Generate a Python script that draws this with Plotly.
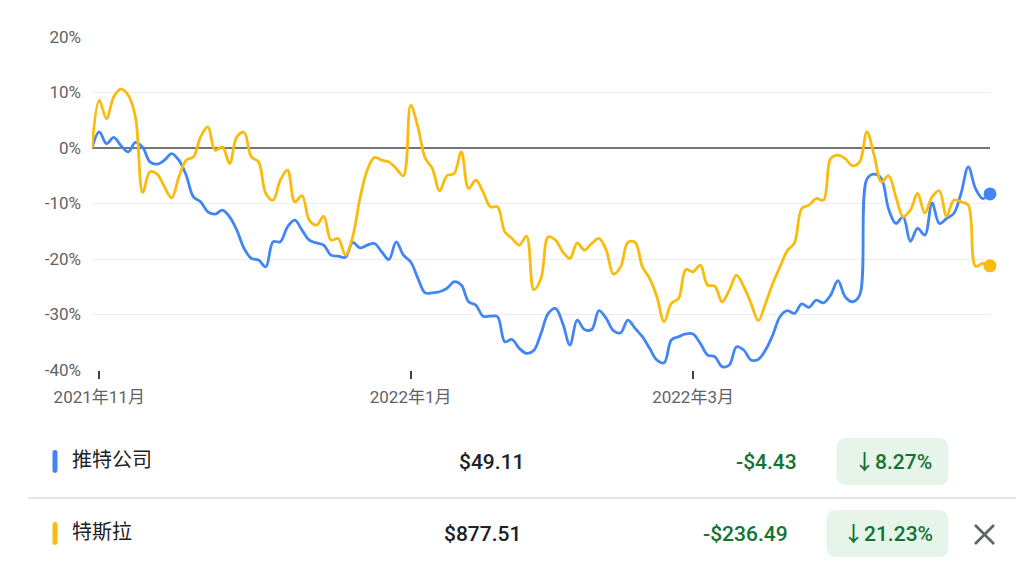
import pandas as pd
import plotly.graph_objects as go

# Trading days shown on the chart (Oct 29 2021 - Apr 28 2022)
holidays = ["2021-11-25", "2021-12-24", "2022-01-17", "2022-02-21", "2022-04-15"]
dates = [d.strftime("%Y-%m-%d") for d in
         pd.bdate_range("2021-10-29", "2022-04-28", freq="C", holidays=holidays)]

# % change since start
twitter_pct = [
    0, 2.9, 0.8, 1.9, 0.4, -0.7, 1.0, 0.1, -2.5, -2.9,
    -2.2, -1.0, -2.2, -4.9, -8.8, -9.7, -11.5, -11.9, -11.2, -12.4,
    -14.8, -18.1, -19.9, -20.2, -21.4, -16.9, -16.9, -14.2, -13.0, -14.8,
    -16.6, -17.1, -17.5, -19.3, -19.5, -19.7, -17.0, -18.0, -17.5, -17.2,
    -18.7, -20.1, -16.9, -19.3, -20.5, -23.5, -26.1, -26.1, -25.9, -25.3,
    -24.1, -24.7, -27.7, -28.3, -30.3, -30.3, -30.4, -34.9, -34.5, -36.1,
    -37.0, -36.5, -33.4, -29.8, -28.9, -31.6, -35.5, -31.0, -32.7, -32.7,
    -29.3, -30.7, -32.9, -33.3, -31.0, -32.5, -34.0, -36.1, -38.2, -38.7,
    -34.6, -34.0, -33.5, -33.5, -35.2, -37.3, -37.6, -39.4, -39.1, -35.8,
    -36.4, -38.2, -38.1, -36.4, -33.7, -30.4, -29.3, -29.8, -28.1, -28.7,
    -27.4, -27.9, -26.5, -23.9, -26.8, -27.7, -26.5, -5.6, -4.7, -5.5,
    -11.0, -13.6, -12.4, -16.8, -14.5, -15.7, -9.9, -13.6, -12.7, -11.8,
    -8.2, -3.4, -7.3, -9.1, -8.27,
]
tesla_pct = [
    0, 8.6, 5.3, 9.2, 10.6, 9.5, 5.6, -8.0, -4.3, -4.7,
    -7.0, -9.0, -5.2, -2.2, -1.6, 2.0, 3.8, -0.4, 0.2, -2.8,
    2.0, 2.8, -1.6, -2.5, -8.2, -9.4, -5.8, -4.0, -9.7, -8.6,
    -13.0, -13.9, -12.3, -16.6, -16.3, -19.3, -16.0, -9.1, -4.0, -1.7,
    -2.2, -2.5, -3.7, -5.0, 7.7, 3.8, -1.8, -3.7, -7.7, -5.0,
    -4.6, -0.7, -7.3, -5.8, -7.9, -10.6, -10.6, -15.1, -16.3, -17.5,
    -15.9, -25.5, -23.5, -16.0, -16.6, -18.7, -19.9, -17.1, -18.4, -17.2,
    -16.3, -18.4, -22.7, -21.4, -17.0, -17.0, -21.4, -23.5, -26.8, -31.3,
    -28.0, -27.1, -21.9, -22.3, -21.1, -24.7, -24.9, -27.7, -25.6, -22.9,
    -25.0, -28.0, -31.1, -28.0, -24.4, -21.4, -18.5, -17.1, -10.9, -10.3,
    -9.1, -9.4, -1.9, -1.3, -1.9, -3.2, -2.5, 2.9, -1.3, -6.1,
    -5.0, -8.8, -12.4, -11.2, -8.2, -11.7, -8.8, -7.7, -12.3, -9.4,
    -9.7, -10.3, -21.3, -20.8, -21.23,
]

tick_dates = ["2021-11-01", "2022-01-03", "2022-03-01"]
tick_labels = ["2021年11月", "2022年1月", "2022年3月"]
y_ticks = [-40, -30, -20, -10, 0, 10, 20]
y_labels = ["-40%", "-30%", "-20%", "-10%", "0%", "10%", "20%"]

names = ["推特公司", "特斯拉"]
prices = ["$49.11", "$877.51"]
changes = ["-$4.43", "-$236.49"]
pct_changes = ["↓8.27%", "↓21.23%"]
colors = ["#4285F4", "#F9BC0E"]

# page body has an 8px margin, so the figure is a bit smaller and offset
OFF = 8
W, H = 1024 - OFF, 576 - OFF
FONT = "Roboto, 'Noto Sans CJK SC', sans-serif"
GREEN = "#137333"


def px(x):
    return (x - OFF) / W


def py(y):
    return 1 - (y - OFF) / H


def rrect(x0, y0, x1, y1, r):
    pts = [
        ("M", [(x0 + r, y0)]), ("L", [(x1 - r, y0)]), ("Q", [(x1, y0), (x1, y0 + r)]),
        ("L", [(x1, y1 - r)]), ("Q", [(x1, y1), (x1 - r, y1)]),
        ("L", [(x0 + r, y1)]), ("Q", [(x0, y1), (x0, y1 - r)]),
        ("L", [(x0, y0 + r)]), ("Q", [(x0, y0), (x0 + r, y0)]),
    ]
    s = ""
    for cmd, coords in pts:
        s += cmd + " " + " ".join(f"{px(a):.5f},{py(b):.5f}" for a, b in coords) + " "
    return s + "Z"


fig = go.Figure()

for vals, col in [(twitter_pct, colors[0]), (tesla_pct, colors[1])]:
    fig.add_trace(go.Scatter(
        x=dates, y=vals, mode="lines",
        line=dict(color=col, width=2.8, shape="spline", smoothing=1.0),
        hoverinfo="skip", showlegend=False,
    ))
for vals, col in [(twitter_pct, colors[0]), (tesla_pct, colors[1])]:
    fig.add_trace(go.Scatter(
        x=[dates[-1]], y=[vals[-1]], mode="markers",
        marker=dict(color=col, size=13), cliponaxis=False,
        hoverinfo="skip", showlegend=False,
    ))

fig.update_layout(
    width=W, height=H,
    margin=dict(l=0, r=0, t=0, b=0, autoexpand=False),
    paper_bgcolor="white", plot_bgcolor="white",
    font=dict(family=FONT, color="#5f6368"),
    xaxis=dict(
        type="category", domain=[px(92), px(990)], range=[0, len(dates) - 1],
        tickvals=tick_dates, ticktext=tick_labels, automargin=False,
        ticks="outside", ticklen=8, tickwidth=2, tickcolor="#3c4043",
        showgrid=False, zeroline=False, showline=False,
        tickfont=dict(size=17, color="#5f6368"), ticklabelstandoff=4,
    ),
    yaxis=dict(
        domain=[py(370), py(37)], range=[-40, 20], automargin=False,
        tickvals=y_ticks, ticktext=y_labels,
        showgrid=True, gridcolor="#eeeeee", gridwidth=1,
        zeroline=True, zerolinecolor="#757575", zerolinewidth=1.6,
        showline=False, ticks="", tickfont=dict(size=17, color="#5f6368"),
        ticklabelstandoff=10,
    ),
)

shapes = []
annotations = []
row_y = [461, 533]
pill_x0 = [836.5, 826.5]
for i in range(2):
    y = row_y[i]
    shapes.append(dict(type="path", xref="paper", yref="paper",
                       path=rrect(52.5, y - 11, 57.5, y + 12, 2.4),
                       fillcolor=colors[i], line=dict(width=0)))
    shapes.append(dict(type="path", xref="paper", yref="paper",
                       path=rrect(pill_x0[i], y - 23, 948.5, y + 24, 10),
                       fillcolor="#e6f4ea", line=dict(width=0), layer="below"))
    annotations.append(dict(x=px(70), y=py(y - 1), text=names[i], xanchor="left",
                            font=dict(size=20, color="#202124")))
    annotations.append(dict(x=px([527, 523][i]), y=py(y + 1), text=prices[i], xanchor="right",
                            font=dict(size=21, color="#202124", weight=500)))
    annotations.append(dict(x=px([799, 790][i]), y=py(y + 1), text=changes[i], xanchor="right",
                            font=dict(size=21, color=GREEN, weight=500)))
    annotations.append(dict(x=px((pill_x0[i] + 948.5) / 2), y=py(y + 1), text=pct_changes[i],
                            xanchor="center", font=dict(size=21, color=GREEN, weight=500)))

for a in annotations:
    a.update(xref="paper", yref="paper", showarrow=False, yanchor="middle")

# row divider
shapes.append(dict(type="line", xref="paper", yref="paper", x0=px(28), x1=px(1020),
                   y0=py(498), y1=py(498), line=dict(color="#dadce0", width=1.5)))
# close icon
for (a, b, c, d) in [(975, 525, 994, 544), (975, 544, 994, 525)]:
    shapes.append(dict(type="line", xref="paper", yref="paper", x0=px(a), y0=py(b),
                       x1=px(c), y1=py(d), line=dict(color="#5f6368", width=2.6)))

fig.update_layout(shapes=shapes, annotations=annotations)

fig.write_html("out.html")
